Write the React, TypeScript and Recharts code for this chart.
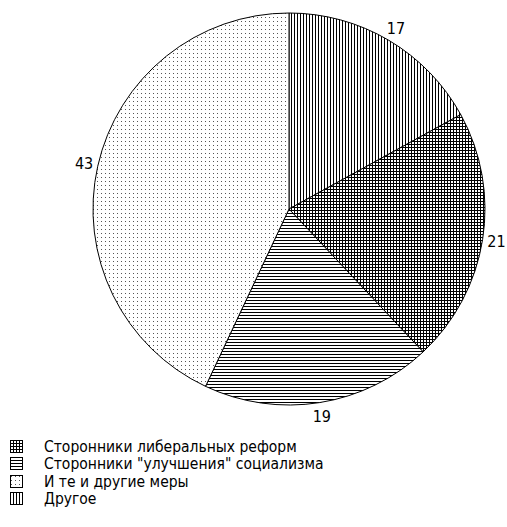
import React from "react";
import { PieChart, Pie, Cell } from "recharts";

// slices in drawing order, clockwise from 12 o'clock
const names = [
  "Другое",
  "Сторонники либеральных реформ",
  "Сторонники \"улучшения\" социализма",
  "И те и другие меры",
];
const values = [17, 21, 19, 43];
const patternIds = ["pVert", "pGrid", "pHoriz", "pDots"];
// order the legend lists them in
const legendOrder = [1, 2, 3, 0];

const data = names.map((name, i) => ({ name, value: values[i] }));

const FONT = '"Liberation Sans Narrow", "DejaVu Sans Condensed", sans-serif';

const Patterns = () => (
  <defs>
    <pattern id="pVert" width="3" height="3" patternUnits="userSpaceOnUse">
      <rect width="3" height="3" fill="#fff" />
      <rect x="0" y="0" width="1" height="3" fill="#000" />
    </pattern>
    <pattern id="pHoriz" width="3" height="3" patternUnits="userSpaceOnUse">
      <rect width="3" height="3" fill="#fff" />
      <rect x="0" y="0" width="3" height="1" fill="#000" />
    </pattern>
    <pattern id="pGrid" width="3" height="3" patternUnits="userSpaceOnUse">
      <rect width="3" height="3" fill="#fff" />
      <rect x="0" y="0" width="1" height="3" fill="#000" />
      <rect x="0" y="0" width="3" height="1" fill="#000" />
    </pattern>
    <pattern id="pDots" width="4" height="4" patternUnits="userSpaceOnUse">
      <rect width="4" height="4" fill="#fff" />
      <rect x="1" y="1" width="1" height="1" fill="#555" />
    </pattern>
  </defs>
);

const renderLabel = (props: any) => {
  const { cx, cy, midAngle, outerRadius, value } = props;
  const rad = Math.PI / 180;
  const r = outerRadius + 14;
  const x = cx + r * Math.cos(-midAngle * rad);
  const y = cy + r * Math.sin(-midAngle * rad);
  return (
    <text
      x={x}
      y={y}
      textAnchor="middle"
      dominantBaseline="central"
      fontFamily={FONT}
      fontSize={16}
      fill="#000"
    >
      {value}
    </text>
  );
};

const ChartLegend = () => (
  <div
    style={{
      position: "absolute",
      left: 0,
      top: 438,
      fontFamily: FONT,
      fontSize: 15.5,
      color: "#000",
    }}
  >
    {legendOrder.map((idx) => (
      <div
        key={names[idx]}
        style={{ display: "flex", alignItems: "center", height: 17.5 }}
      >
        <svg width={14} height={14} style={{ marginLeft: 10, marginRight: 20 }}>
          <rect
            x={0.5}
            y={0.5}
            width={12}
            height={12}
            fill={`url(#${patternIds[idx]})`}
            stroke="#000"
            strokeWidth={1}
          />
        </svg>
        <span>{names[idx]}</span>
      </div>
    ))}
  </div>
);

export default function App() {
  return (
    <div style={{ position: "absolute", left: 0, top: 0, width: 507, height: 527, background: "#fff" }}>
      <PieChart width={507} height={527} margin={{ top: 0, right: 0, bottom: 0, left: 0 }}>
        <Patterns />
        <Pie
          data={data}
          dataKey="value"
          nameKey="name"
          cx={289}
          cy={209}
          outerRadius={196}
          startAngle={90}
          endAngle={-270}
          stroke="#000"
          strokeWidth={1}
          label={renderLabel}
          labelLine={false}
          isAnimationActive={false}
        >
          {data.map((d, i) => (
            <Cell key={d.name} fill={`url(#${patternIds[i]})`} />
          ))}
        </Pie>
      </PieChart>
      <ChartLegend />
    </div>
  );
}
